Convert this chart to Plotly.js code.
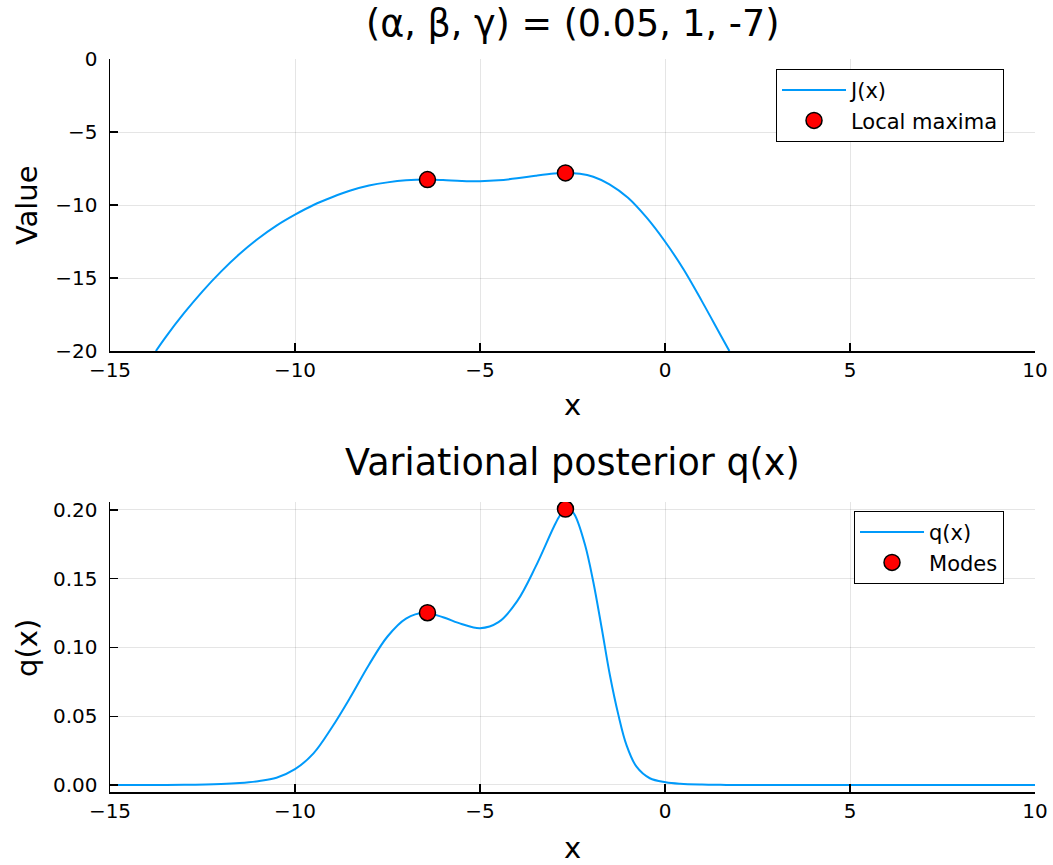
<!DOCTYPE html>
<html>
<head>
<meta charset="utf-8">
<script src="https://cdn.plot.ly/plotly-3.0.1.min.js"></script>
<style>html,body{margin:0;padding:0;background:#fff;}#chart{width:1053px;height:865px;}</style>
</head>
<body>
<div id="chart"></div>
<script>
// J(x) objective curve
const xJ = [-13.76, -13.5, -13, -12.5, -12, -11.5, -11, -10.5, -10, -9.5, -9, -8.5, -8, -7.5, -7, -6.42, -6, -5.5, -5, -4.5, -4, -3.5, -3, -2.7, -2.3, -1.94, -1.5, -1, -0.5, 0, 0.5, 1, 1.5, 1.74];
const yJ = [-20, -19.06, -17.41, -15.91, -14.56, -13.36, -12.31, -11.41, -10.66, -10.0, -9.47, -9.01, -8.67, -8.45, -8.31, -8.26, -8.29, -8.35, -8.37, -8.31, -8.17, -7.99, -7.84, -7.80, -7.86, -8.06, -8.58, -9.5, -10.85, -12.5, -14.4, -16.6, -18.9, -20];
// Local maxima of J
const xMax = [-6.42, -2.69];
const yMax = [-8.26, -7.80];
// Variational posterior q(x)
const xQ = [-15, -14, -13, -12, -11.5, -11, -10.5, -10, -9.5, -9, -8.5, -8, -7.5, -7, -6.5, -6, -5.5, -5, -4.5, -4, -3.5, -3, -2.84, -2.68, -2.5, -2.43, -2.16, -1.94, -1.71, -1.49, -1.26, -1.04, -0.77, -0.41, 0.02, 0.41, 1, 1.5, 2, 4, 6, 8, 10];
const yQ = [0, 0.00003, 0.0002, 0.0008, 0.0015, 0.0028, 0.0053, 0.0115, 0.023, 0.042, 0.064, 0.0875, 0.108, 0.121, 0.1252, 0.122, 0.1171, 0.114, 0.1184, 0.1335, 0.1586, 0.188, 0.196, 0.2007, 0.1985, 0.196, 0.1745, 0.148, 0.114, 0.080, 0.051, 0.029, 0.0133, 0.0049, 0.002, 0.0009, 0.0003, 0.0001, 0, 0, 0, 0, 0];
// Modes of q
const xModes = [-6.42, -2.69];
const yModes = [0.1253, 0.2007];

const xTicks = [-15, -10, -5, 0, 5, 10];
const yTicksTop = [-20, -15, -10, -5, 0];
const yTicksBot = [0, 0.05, 0.10, 0.15, 0.20];

const FONT = 'DejaVu Sans, sans-serif';
const lineCol = '#009afa';

const traces = [
  {x: xJ, y: yJ, type: 'scatter', mode: 'lines', name: 'J(x)', line: {color: lineCol, width: 2, shape: 'spline', smoothing: 1}, xaxis: 'x', yaxis: 'y', legend: 'legend'},
  {x: xMax, y: yMax, type: 'scatter', mode: 'markers', name: 'Local maxima', marker: {color: 'red', size: 16, line: {color: 'black', width: 1.5}}, xaxis: 'x', yaxis: 'y', legend: 'legend'},
  {x: xQ, y: yQ, type: 'scatter', mode: 'lines', name: 'q(x)', line: {color: lineCol, width: 2, shape: 'spline', smoothing: 1}, xaxis: 'x2', yaxis: 'y2', legend: 'legend2'},
  {x: xModes, y: yModes, type: 'scatter', mode: 'markers', name: 'Modes', marker: {color: 'red', size: 16, line: {color: 'black', width: 1.5}}, xaxis: 'x2', yaxis: 'y2', legend: 'legend2'}
];

const axBase = {
  ticks: 'inside', ticklen: 8, tickwidth: 1.3, tickcolor: 'black',
  showline: true, linecolor: 'black', linewidth: 1.5, mirror: false,
  showgrid: true, gridcolor: 'rgba(0,0,0,0.1)', gridwidth: 1, zeroline: false,
  tickfont: {family: FONT, size: 20, color: 'black'}
};

const legFont = {family: FONT, size: 21, color: 'black'};

const layout = {
  width: 1053, height: 865,
  margin: {l: 110, r: 18, t: 59, b: 73},
  paper_bgcolor: 'white', plot_bgcolor: 'white',
  font: {family: FONT, color: 'black'},
  showlegend: true,
  xaxis: Object.assign({}, axBase, {domain: [0, 1], anchor: 'y', range: [-15, 10], tickvals: xTicks}),
  yaxis: Object.assign({}, axBase, {domain: [0.6016, 1], anchor: 'x', range: [-20, 0], tickvals: yTicksTop, ticklabelstandoff: 7}),
  xaxis2: Object.assign({}, axBase, {domain: [0, 1], anchor: 'y2', range: [-15, 10], tickvals: xTicks}),
  yaxis2: Object.assign({}, axBase, {domain: [0, 0.3956], anchor: 'x2', range: [-0.0051, 0.2058], tickvals: yTicksBot, tickformat: '.2f', ticklabelstandoff: 7}),
  legend: {x: 0.9665, y: 0.9864, xanchor: 'right', yanchor: 'top', bgcolor: 'white', bordercolor: 'black', borderwidth: 1, font: legFont, itemwidth: 64, tracegroupgap: 0},
  legend2: {x: 0.9665, y: 0.3834, xanchor: 'right', yanchor: 'top', bgcolor: 'white', bordercolor: 'black', borderwidth: 1, font: legFont, itemwidth: 64, tracegroupgap: 0},
  annotations: [
    {text: '(α, β, γ) = (0.05, 1, -7)', xref: 'paper', yref: 'paper', x: 0.5, y: 1.0805, xanchor: 'center', yanchor: 'top', showarrow: false, font: {family: FONT, size: 36.5, color: 'black'}},
    {text: 'Variational posterior q(x)', xref: 'paper', yref: 'paper', x: 0.5, y: 0.450, xanchor: 'center', yanchor: 'middle', showarrow: false, font: {family: FONT, size: 36.5, color: 'black'}},
    {text: 'x', xref: 'paper', yref: 'paper', x: 0.5, y: 0.528, xanchor: 'center', yanchor: 'middle', showarrow: false, font: {family: FONT, size: 29, color: 'black'}},
    {text: 'x', xref: 'paper', yref: 'paper', x: 0.5, y: -0.0764, xanchor: 'center', yanchor: 'middle', showarrow: false, font: {family: FONT, size: 29, color: 'black'}},
    {text: 'Value', xref: 'paper', yref: 'paper', x: -0.0897, y: 0.8008, xanchor: 'center', yanchor: 'middle', textangle: -90, showarrow: false, font: {family: FONT, size: 29, color: 'black'}},
    {text: 'q(x)', xref: 'paper', yref: 'paper', x: -0.0897, y: 0.1965, xanchor: 'center', yanchor: 'middle', textangle: -90, showarrow: false, font: {family: FONT, size: 29, color: 'black'}}
  ]
};

Plotly.newPlot('chart', traces, layout, {displayModeBar: false, staticPlot: true});
</script>
</body>
</html>
